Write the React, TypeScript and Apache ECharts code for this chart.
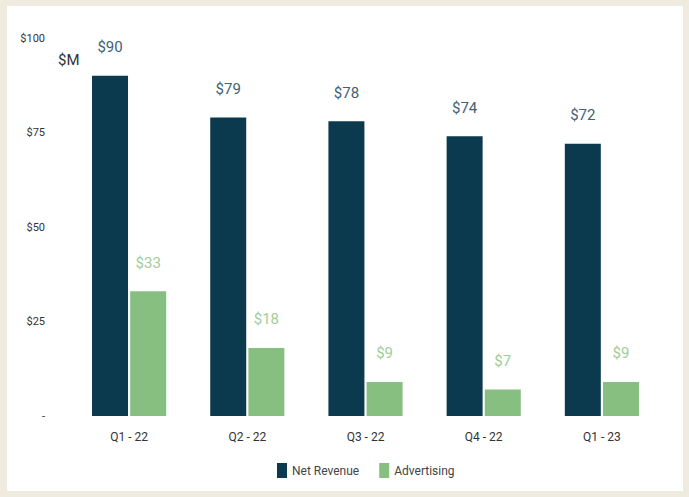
import React, { useEffect, useRef } from "react";
import * as echarts from "echarts";

const categories = ["Q1 - 22", "Q2 - 22", "Q3 - 22", "Q4 - 22", "Q1 - 23"];
const netRevenue = [90, 79, 78, 74, 72];
const advertising = [33, 18, 9, 7, 9];
const seriesNames = ["Net Revenue", "Advertising"];
const unitLabel = "$M";

export default function App() {
  const ref = useRef<HTMLDivElement>(null);
  useEffect(() => {
    if (!ref.current) return;
    const chart = echarts.init(ref.current, undefined, { renderer: "svg" });
    chart.setOption({
      animation: false,
      textStyle: { fontFamily: "Roboto, 'Liberation Sans', sans-serif" },
      title: {
        text: unitLabel,
        left: 53,
        top: 47,
        textStyle: { fontSize: 15, fontWeight: "normal", color: "#333" },
      },
      legend: {
        data: seriesNames,
        left: 272,
        top: 458,
        itemWidth: 10,
        itemHeight: 15,
        itemGap: 20,
        icon: "rect",
        textStyle: { fontSize: 12, color: "#444" },
      },
      grid: { left: 70, right: 28, top: 38, bottom: 81 },
      xAxis: {
        type: "category",
        data: categories,
        axisLine: { show: false },
        axisTick: { show: false },
        axisLabel: { fontSize: 12, color: "#333", margin: 15 },
      },
      yAxis: {
        type: "value",
        min: 0,
        max: 100,
        interval: 25,
        splitLine: { show: false },
        axisLine: { show: false },
        axisTick: { show: false },
        axisLabel: {
          fontSize: 11,
          color: "#333",
          margin: 25,
          formatter: (v: number) => (v === 0 ? "-" : "$" + v),
        },
      },
      series: [
        {
          name: seriesNames[0],
          type: "bar",
          data: netRevenue,
          barWidth: 36,
          barGap: "6%",
          itemStyle: { color: "#0b3a4f" },
          label: {
            show: true,
            position: "top",
            distance: 21,
            fontSize: 15,
            color: "#3f6275",
            formatter: (p: any) => "$" + p.value,
          },
        },
        {
          name: seriesNames[1],
          type: "bar",
          data: advertising,
          barWidth: 36,
          itemStyle: { color: "#87bf81" },
          label: {
            show: true,
            position: "top",
            distance: 21,
            fontSize: 15,
            color: "#9fcd9a",
            formatter: (p: any) => "$" + p.value,
          },
        },
      ],
    });
    return () => chart.dispose();
  }, []);
  return (
    <div style={{ position: "fixed", left: 0, top: 0, width: 689, height: 497, background: "#efebdf" }}>
      <div style={{ position: "absolute", left: 7, top: 6, width: 676, height: 485, background: "#ffffff" }} />
      <div ref={ref} style={{ position: "absolute", left: 0, top: 0, width: 689, height: 497 }} />
    </div>
  );
}
